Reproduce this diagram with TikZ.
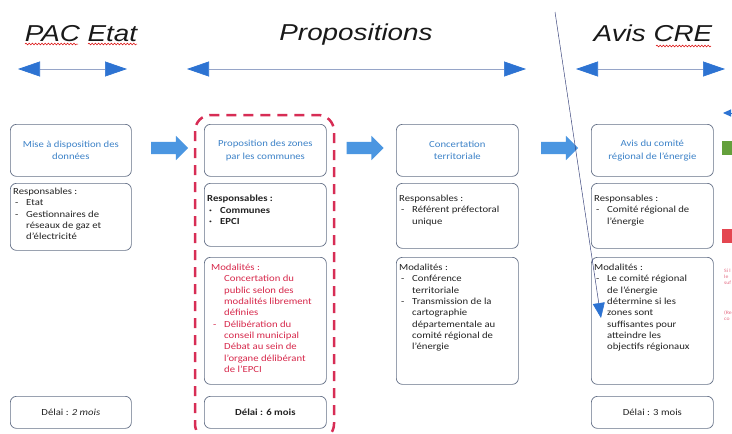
\documentclass[tikz,border=0pt]{standalone}
\usepackage{fontspec}
\setmainfont{Carlito}[FakeStretch=1.15]
\newfontfamily\hdrfont{Liberation Sans}[FakeStretch=1.21]
\usetikzlibrary{arrows.meta,shapes.arrows,decorations.pathmorphing}
\definecolor{arrowblue}{RGB}{45,115,210}
\definecolor{blockblue}{RGB}{75,150,225}
\definecolor{linegray}{RGB}{150,165,200}
\definecolor{frame}{RGB}{100,112,135}
\definecolor{titleblue}{RGB}{60,130,200}
\definecolor{bodytxt}{RGB}{35,35,35}
\definecolor{redtxt}{RGB}{215,40,75}
\definecolor{reddash}{RGB}{215,45,85}
\definecolor{diagline}{RGB}{60,70,125}
\definecolor{legendgreen}{RGB}{100,160,60}
\definecolor{legendred}{RGB}{228,70,80}
\newcommand\myitem[2][-]{\par\hangindent=13pt\hangafter=1\noindent\makebox[13pt][l]{\hspace{2pt}#1}#2}
\begin{document}
\begin{tikzpicture}[x=1pt,y=-1pt,
  box/.style={draw=frame, line width=0.7pt, rounded corners=6pt, minimum width=122pt,
              anchor=north west, inner sep=0pt, fill=white,
              font=\fontsize{9.3}{11.3}\selectfont, text=bodytxt},
  titlebox/.style={box, minimum height=52pt, align=center, text=titleblue,
              font=\fontsize{9.3}{12.5}\selectfont},
  body/.style={anchor=north west, inner sep=0pt, font=\fontsize{9.3}{11.3}\selectfont, text=bodytxt},
  hdr/.style={anchor=base, inner sep=0pt, font=\hdrfont\itshape\fontsize{23}{26}\selectfont, text=black!90},
  hline/.style={draw=linegray, line width=0.7pt,
     {Triangle[length=22pt,width=15pt,color=arrowblue]}-{Triangle[length=22pt,width=15pt,color=arrowblue]}},
  blockarrow/.style={single arrow, fill=blockblue, draw=none, minimum height=37pt,
     single arrow head extend=6pt, single arrow head indent=0pt, inner sep=0pt},
  squig/.style={draw=red!85!black, line width=0.5pt, decorate,
     decoration={snake, amplitude=0.9pt, segment length=3.2pt}},
  frag/.style={anchor=west, inner sep=0pt, text=redtxt!70, font=\fontsize{5}{6}\selectfont, align=left}
]
\useasboundingbox (0,0) rectangle (732,434);

% headers
\node[hdr] (hpac) at (81,41) {PAC Etat};
\node[hdr] (hprop) at (356,40) {Propositions};
\node[hdr] (havis) at (653,41.5) {Avis CRE};
\draw[squig] (25,44) -- (78,44);
\draw[squig] (88,44) -- (137,44);
\draw[squig] (656,46) -- (711,46);

% double arrows
\coordinate (pa) at (18,69);  \coordinate (pb) at (127,69);
\coordinate (qa) at (187,69); \coordinate (qb) at (526,69);
\coordinate (ra) at (576,69); \coordinate (rb) at (725,69);
\draw[hline] (pa) -- (pb);
\draw[hline] (qa) -- (qb);
\draw[hline] (ra) -- (rb);

% red dashed frame
\draw[draw=reddash, line width=2.5pt, dash pattern=on 10pt off 7pt, rounded corners=16pt]
  (195,115) rectangle (334,440);

% column 1
\node[titlebox, minimum width=121pt] (t1) at (10,124) {Mise à disposition des\\données};
\node[box, minimum width=121pt, minimum height=67pt] (r1) at (10,183) {};
\node[body] (r1t) at ([xshift=3pt,yshift=-5pt]r1.north west) {\parbox{130pt}{%
  Responsables :
  \myitem{Etat}
  \myitem{Gestionnaires de\newline réseaux de gaz et\newline d'électricité}}};
\node[box, minimum width=121pt, minimum height=32pt] (d1) at (10,396) {Délai : \textit{2 mois}};

% column 2
\node[titlebox] (t2) at (204,124) {Proposition des zones\\par les communes};
\node[box, minimum height=63pt] (r2) at (204,183) {};
\node[body] (r2t) at ([xshift=3pt,yshift=-12pt]r2.north west) {\parbox{130pt}{\bfseries
  Responsables :
  \myitem[·]{Communes}
  \myitem[·]{EPCI}}};
\node[box, minimum height=127pt] (m2) at (204,257) {};
\node[body, text=redtxt] (m2t) at ([xshift=7pt,yshift=-7pt]m2.north west) {\parbox{130pt}{%
  Modalités :
  \myitem[]{Concertation du\newline public selon des\newline modalités librement\newline définies}
  \myitem{Délibération du\newline conseil municipal}
  \myitem[]{Débat au sein de\newline l'organe délibérant\newline de l'EPCI}}};
\node[box, minimum height=32pt] (d2) at (204,396) {\bfseries Délai : 6 mois};

% column 3
\node[titlebox] (t3) at (396,124) {Concertation\\territoriale};
\node[box, minimum height=65pt] (r3) at (396,183) {};
\node[body] (r3t) at ([xshift=3pt,yshift=-12pt]r3.north west) {\parbox{130pt}{%
  Responsables :
  \myitem{Référent préfectoral\newline unique}}};
\node[box, minimum height=127pt] (m3) at (396,257) {};
\node[body] (m3t) at ([xshift=3pt,yshift=-7pt]m3.north west) {\parbox{130pt}{%
  Modalités :
  \myitem{Conférence\newline territoriale}
  \myitem{Transmission de la\newline cartographie\newline départementale au\newline comité régional de\newline l'énergie}}};

% column 4
\node[titlebox] (t4) at (591,124) {Avis du comité\\régional de l'énergie};
\node[box, minimum height=65pt] (r4) at (591,183) {};
\node[body] (r4t) at ([xshift=3pt,yshift=-12pt]r4.north west) {\parbox{130pt}{%
  Responsables :
  \myitem{Comité régional de\newline l'énergie}}};
\node[box, minimum height=127pt] (m4) at (591,257) {};
\node[body] (m4t) at ([xshift=3pt,yshift=-7pt]m4.north west) {\parbox{130pt}{%
  Modalités :
  \myitem{Le comité régional\newline de l'énergie\newline détermine si les\newline zones sont\newline suffisantes pour\newline atteindre les\newline objectifs régionaux}}};
\node[box, minimum height=32pt] (d4) at (591,396) {Délai : 3 mois};

% block arrows
\node[blockarrow] (ba1) at (166.5,148) {\rule{0pt}{12pt}};
\node[blockarrow] (ba2) at (362,148) {\rule{0pt}{12pt}};
\node[blockarrow] (ba3) at (556.5,148) {\rule{0pt}{12pt}};

% diagonal line
\coordinate (ds) at (555,12);
\coordinate (de) at (601,318);
\draw[draw=diagline, line width=0.5pt, -{Triangle[length=15pt,width=12pt,color=arrowblue]}] (ds) -- (de);

% cut-off legend on the right edge
\coordinate (la) at (723,113); \coordinate (lb) at (745,113);
\draw[draw=arrowblue, line width=1pt, {Triangle[length=8pt,width=7pt,color=arrowblue]}-] (la) -- (lb);
\fill[legendgreen] (722,141) rectangle (740,155);
\fill[legendred] (722,229) rectangle (740,243);
\node[frag] (lt1) at (724,277) {Si l\\le\\suf};
\node[frag] (lt2) at (724,316) {(Re\\co};
\end{tikzpicture}
\end{document}
